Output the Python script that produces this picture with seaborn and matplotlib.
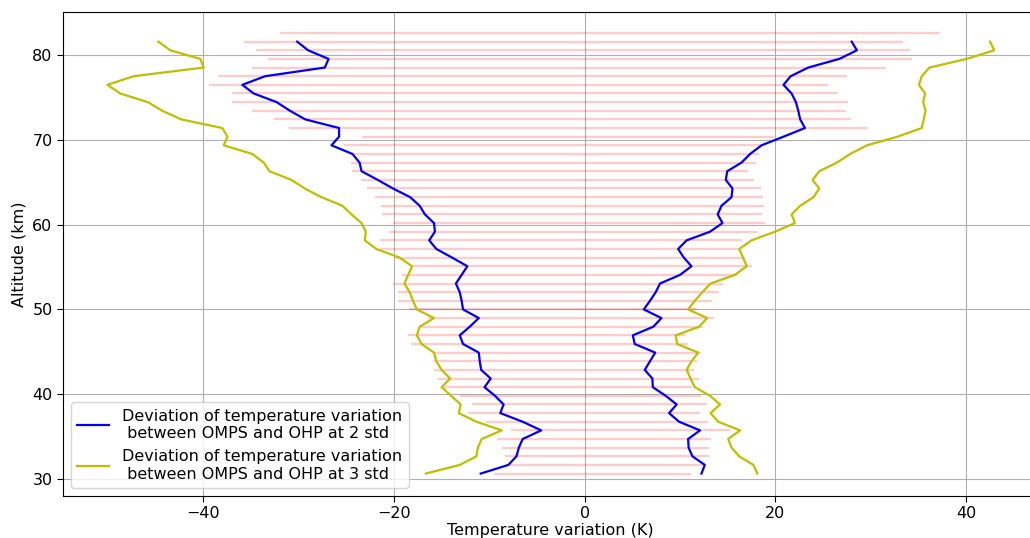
import pandas as pd
import seaborn as sns
import matplotlib.pyplot as plt

# altitude levels (km) of the profiles
altitude = [30.60, 31.62, 32.64, 33.66, 34.68, 35.70, 36.72, 37.74, 38.76, 39.78,
            40.80, 41.82, 42.84, 43.86, 44.88, 45.90, 46.92, 47.94, 48.96, 49.98,
            51.00, 52.02, 53.04, 54.06, 55.08, 56.10, 57.12, 58.14, 59.16, 60.18,
            61.20, 62.22, 63.24, 64.26, 65.28, 66.30, 67.32, 68.34, 69.36, 70.38,
            71.40, 72.42, 73.44, 74.46, 75.48, 76.50, 77.52, 78.54, 79.56, 80.58,
            81.60]
alt_range = altitude + [82.62]

# 2 std deviation (lower / upper)
dev2_low = [-10.9, -8.0, -7.15, -6.9, -6.5, -4.55, -6.5, -8.85, -8.5, -9.4,
            -10.5, -9.85, -10.85, -11.0, -11.1, -12.75, -13.1, -12.05, -11.1, -12.75,
            -12.9, -13.1, -13.5, -12.9, -12.3, -13.9, -15.55, -16.3, -15.7, -15.8,
            -16.75, -17.3, -18.3, -20.1, -21.7, -23.4, -23.6, -24.35, -26.55, -25.75,
            -25.75, -29.3, -30.9, -32.3, -34.7, -35.9, -33.5, -27.25, -26.85, -29.0,
            -30.15]
dev2_high = [12.25, 12.6, 11.3, 10.9, 10.85, 12.1, 9.9, 8.85, 9.65, 8.5,
             7.15, 7.1, 6.3, 6.85, 7.4, 5.25, 5.05, 7.2, 8.05, 6.2,
             6.85, 7.45, 7.9, 10.0, 11.2, 10.4, 9.8, 10.7, 13.15, 14.45,
             13.95, 14.35, 15.4, 15.5, 14.8, 14.95, 16.45, 17.35, 18.55, 20.85,
             23.1, 22.6, 22.4, 22.15, 21.7, 20.85, 21.6, 23.45, 26.7, 28.55,
             28.0]

# 3 std deviation (lower / upper)
dev3_low = [-16.65, -13.1, -11.35, -11.2, -10.8, -8.7, -11.35, -13.2, -13.0, -14.0,
            -15.0, -14.1, -15.0, -15.55, -15.8, -17.1, -17.6, -17.3, -15.8, -17.6,
            -18.0, -18.35, -18.9, -18.5, -18.1, -19.4, -21.85, -23.05, -22.95, -23.4,
            -24.45, -25.4, -27.6, -29.35, -30.75, -33.05, -33.65, -34.85, -37.85, -37.45,
            -38.0, -42.3, -44.3, -45.8, -48.7, -50.05, -47.3, -39.95, -40.3, -43.45,
            -44.7]
dev3_high = [18.1, 17.7, 16.2, 15.4, 15.05, 16.3, 14.0, 13.2, 14.2, 13.15,
             11.55, 11.1, 10.7, 11.2, 11.9, 9.7, 9.55, 12.0, 12.85, 10.85,
             11.55, 12.35, 13.2, 15.75, 17.0, 16.6, 16.2, 17.5, 19.95, 22.05,
             21.7, 22.6, 24.0, 24.6, 23.9, 24.6, 26.45, 27.85, 29.6, 32.8,
             35.35, 35.55, 35.75, 35.5, 35.7, 35.05, 35.35, 36.15, 40.05, 42.95,
             42.5]

# min / max of the temperature differences at each level
range_low = [-9.5, -8.2, -8.4, -8.7, -9.15, -7.7, -10.3, -12.2, -11.8, -13.1,
             -14.7, -15.4, -15.8, -15.95, -15.9, -18.2, -18.5, -17.3, -16.4, -18.4,
             -19.55, -19.55, -20.1, -19.2, -18.0, -19.9, -21.5, -21.5, -20.55, -20.1,
             -21.25, -21.4, -22.0, -22.8, -23.45, -24.4, -24.55, -24.5, -25.25, -23.35,
             -31.0, -32.6, -34.85, -37.0, -37.0, -39.35, -38.45, -34.85, -33.2, -34.45,
             -35.75, -31.9]
range_high = [11.15, 12.6, 13.0, 13.05, 13.3, 15.25, 12.95, 12.1, 12.85, 12.2,
              11.3, 12.0, 11.5, 11.75, 12.25, 10.85, 10.5, 12.4, 13.55, 11.8,
              13.4, 14.1, 14.5, 16.1, 17.5, 16.8, 16.05, 16.5, 18.15, 18.9,
              18.6, 18.85, 18.7, 18.45, 17.8, 17.1, 17.95, 18.25, 18.5, 19.85,
              29.7, 27.9, 27.4, 27.65, 26.6, 25.5, 27.5, 31.55, 34.35, 34.1,
              33.35, 37.25]

label2 = 'Deviation of temperature variation\n between OMPS and OHP at 2 std'
label3 = 'Deviation of temperature variation\n between OMPS and OHP at 3 std'

plt.rcParams['font.size'] = 11.5
plt.rcParams['xtick.major.size'] = 4
plt.rcParams['ytick.major.size'] = 4

fig = plt.figure(figsize=(10.3, 5.38), dpi=100)
ax = fig.add_axes([63 / 1030, 42 / 538, (1038.6 - 63) / 1030, 484 / 538])

ax.hlines(alt_range, range_low, range_high, colors='r', alpha=0.2, linewidth=1.7)

sns.lineplot(x=dev2_low, y=altitude, sort=False, estimator=None, color='b',
             linewidth=1.6, label=label2, ax=ax)
sns.lineplot(x=dev2_high, y=altitude, sort=False, estimator=None, color='b',
             linewidth=1.6, ax=ax)
sns.lineplot(x=dev3_low, y=altitude, sort=False, estimator=None, color='y',
             linewidth=1.6, label=label3, ax=ax)
sns.lineplot(x=dev3_high, y=altitude, sort=False, estimator=None, color='y',
             linewidth=1.6, ax=ax)

ax.grid(True)
ax.set_xlim(-54.7, 47.6)
ax.set_ylim(27.95, 85.1)
ax.set_xlabel('Temperature variation (K)', labelpad=1)
ax.set_ylabel('Altitude (km)')
ax.legend(loc='lower left', fontsize=11.5)

fig.savefig('out.png', dpi=100)
